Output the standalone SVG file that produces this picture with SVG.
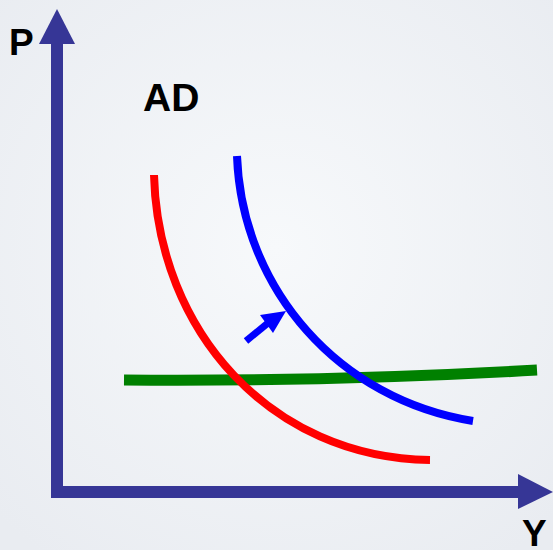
<svg xmlns="http://www.w3.org/2000/svg" width="553" height="550" viewBox="0 0 553 550">
  <defs>
    <radialGradient id="bg" cx="0.5" cy="0.45" r="0.7">
      <stop offset="0" stop-color="#F7F9FB"/>
      <stop offset="1" stop-color="#E9ECF1"/>
    </radialGradient>
    <style>
      .axis { fill: none; stroke: #363696; stroke-width: 12; }
      .head { fill: #363696; }
      .lbl { font-family: "Liberation Sans", Arial, sans-serif; font-weight: bold; fill: #000; }
      .curve { fill: none; stroke-width: 8; }
    </style>
  </defs>
  <rect x="0" y="0" width="553" height="550" fill="url(#bg)"/>

  <g id="axes">
    <g id="p-axis">
      <line class="axis" x1="57" y1="40" x2="57" y2="498"/>
      <polygon class="head" points="57,9 39,44 75,44"/>
    </g>
    <g id="y-axis">
      <line class="axis" x1="51" y1="492" x2="520" y2="492"/>
      <polygon class="head" points="553,492 518,474 518,509"/>
    </g>
  </g>

  <g id="labels">
    <text id="label-p" class="lbl" x="9" y="55" font-size="37">P</text>
    <text id="label-ad" class="lbl" x="143" y="111" font-size="39">AD</text>
    <text id="label-y" class="lbl" x="522" y="546" font-size="37">Y</text>
  </g>

  <g id="connectors">
    <path id="green-line" d="M124,380 C250,381 400,378 537,370" fill="none" stroke="#008000" stroke-width="11"/>
    <path id="ad1" class="curve" d="M154,175 C158,330 270,458 430,460" stroke="#FF0000"/>
    <path id="ad2" class="curve" d="M237,156 C242,290 340,400 473,421" stroke="#0000FF"/>
    <g id="shift-arrow">
      <line x1="246" y1="341" x2="268" y2="323" stroke="#0000FF" stroke-width="7"/>
      <polygon points="286,311 260,315 273,333" fill="#0000FF"/>
    </g>
  </g>
</svg>
